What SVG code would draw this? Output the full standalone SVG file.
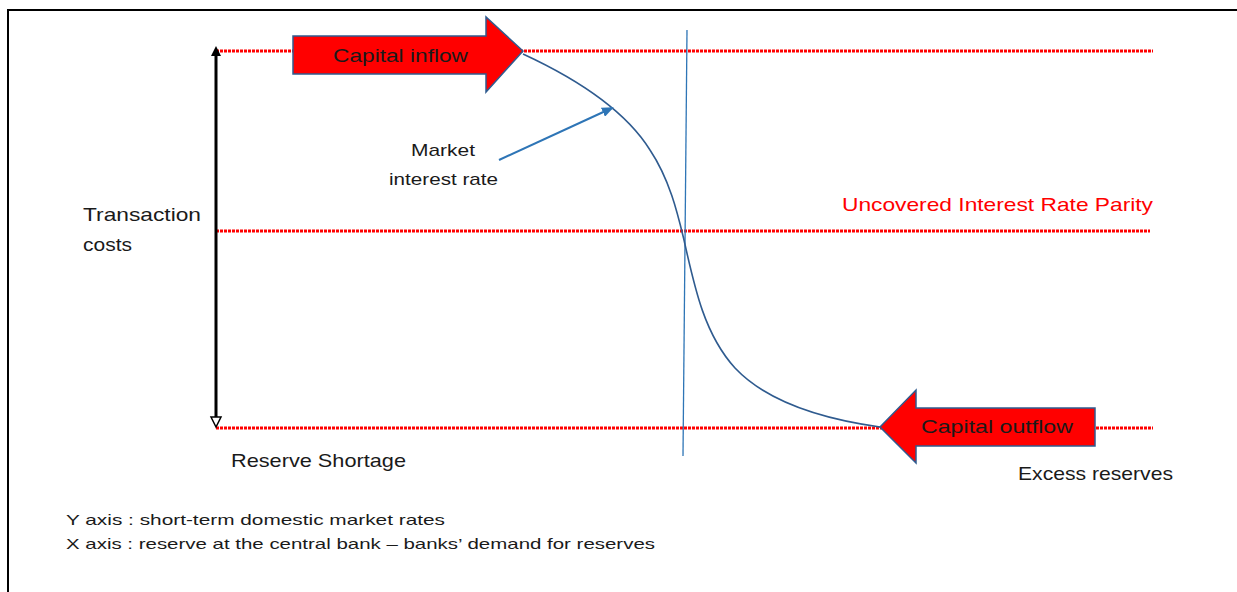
<svg xmlns="http://www.w3.org/2000/svg" width="1237" height="592" viewBox="0 0 1237 592">
<style>
text{font-family:"Liberation Sans","DejaVu Sans",sans-serif;fill:#1a1a1a}
.lvl{stroke:#ff0000;stroke-width:3;stroke-dasharray:3 1;fill:none}
.big{stroke:#2f5b8f;stroke-width:1.5;fill:#ff0000}
.lbl{font-size:19px}
.sm{font-size:15px}
.mk{font-size:17px}
</style>
<defs>
<marker id="blueHead" markerWidth="12" markerHeight="10" refX="10" refY="5" orient="auto" markerUnits="userSpaceOnUse" viewBox="0 0 12 10">
<path d="M0,0 L12,5 L0,10 Z" fill="#2e75b6"/>
</marker>
</defs>
<rect width="1237" height="592" fill="#fff"/>
<path d="M8,592 L8,10 L1237,10" fill="none" stroke="#000" stroke-width="2"/>

<g id="levels">
<line class="lvl" x1="216" y1="51" x2="1153" y2="51"/>
<line class="lvl" x1="216" y1="231" x2="1150" y2="231"/>
<line class="lvl" x1="216" y1="428" x2="1153" y2="428"/>
</g>

<g id="connectors">
<line x1="216" y1="56" x2="216" y2="418" stroke="#000" stroke-width="3"/>
<path d="M216,46 L211,56 L221,56 Z" fill="#000"/>
<path d="M216,427 L211,417 L221,417 Z" fill="#fff" stroke="#000" stroke-width="1.5"/>
<line x1="687" y1="30" x2="683" y2="456" stroke="#2e75b6" stroke-width="1.3"/>
<path d="M523,54 C575,78 625,110 650,150 C670,180 678,215 684,240 C695,290 705,335 735,368 C770,405 830,420 880,427" fill="none" stroke="#2f5b8f" stroke-width="1.6"/>
<line x1="499" y1="160" x2="612" y2="108" stroke="#2e75b6" stroke-width="2" marker-end="url(#blueHead)"/>
</g>

<g id="capital-inflow">
<path class="big" d="M293,36 L486,36 L486,17 L523,51 L486,92 L486,74 L293,74 Z"/>
<text class="lbl" x="333" y="62" textLength="135" lengthAdjust="spacingAndGlyphs">Capital inflow</text>
</g>

<g id="capital-outflow">
<path class="big" d="M880,427 L916,390 L916,408 L1095,408 L1095,446 L916,446 L916,463 Z"/>
<text class="lbl" x="921" y="433" textLength="152" lengthAdjust="spacingAndGlyphs">Capital outflow</text>
</g>

<g id="market-rate-label">
<text class="mk" x="411" y="156" textLength="64" lengthAdjust="spacingAndGlyphs">Market</text>
<text class="mk" x="389" y="185" textLength="109" lengthAdjust="spacingAndGlyphs">interest rate</text>
</g>

<g id="transaction-costs">
<text class="lbl" x="83" y="221" textLength="118" lengthAdjust="spacingAndGlyphs">Transaction</text>
<text class="lbl" x="83" y="251" textLength="49" lengthAdjust="spacingAndGlyphs">costs</text>
</g>

<g id="uip">
<text class="lbl" x="842" y="211" style="fill:#ff0000" textLength="311" lengthAdjust="spacingAndGlyphs">Uncovered Interest Rate Parity</text>
</g>

<g id="reserve-shortage">
<text class="lbl" x="231" y="467" textLength="175" lengthAdjust="spacingAndGlyphs">Reserve Shortage</text>
</g>

<g id="excess-reserves">
<text class="lbl" x="1018" y="480" textLength="155" lengthAdjust="spacingAndGlyphs">Excess reserves</text>
</g>

<g id="axis-notes">
<text class="sm" x="66" y="525" textLength="379" lengthAdjust="spacingAndGlyphs">Y axis : short-term domestic market rates</text>
<text class="sm" x="66" y="549" textLength="589" lengthAdjust="spacingAndGlyphs">X axis : reserve at the central bank –  banks’ demand for reserves</text>
</g>
</svg>
